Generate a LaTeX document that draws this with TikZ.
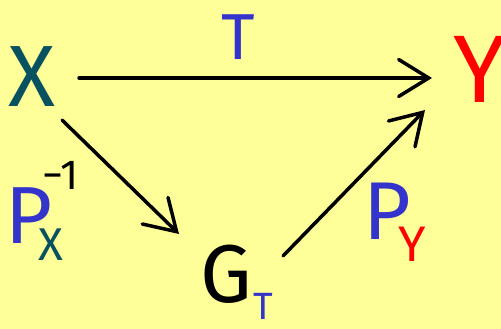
\documentclass[tikz,border=0pt]{standalone}
\usepackage{fontspec}
\setmainfont{Fira Sans}
\usetikzlibrary{arrows.meta}
\definecolor{bgyellow}{RGB}{255,255,153}
\definecolor{tealx}{RGB}{8,82,96}
\definecolor{blueT}{RGB}{52,52,204}
\definecolor{redY}{RGB}{255,0,0}
\begin{document}
\begin{tikzpicture}[x=1pt,y=-1pt,
  lbl/.style={inner sep=0pt,outer sep=0pt,anchor=center},
  arr/.style={line width=3.5pt,line cap=round,-{Straight Barb[length=30pt,width=37pt,line cap=round]}}]
\fill[bgyellow] (0,0) rectangle (501,329);
\useasboundingbox (0,0) rectangle (501,329);
% main objects
\node[lbl,text=tealx,font=\fontsize{87}{87}\selectfont] (X) at (32,77) {X};
\node[lbl,text=redY,font=\fontsize{96}{96}\selectfont] (Y) at (480,69) {Y};
\node[lbl,font=\fontsize{82}{82}\selectfont] (G) at (226,274) {G};
\node[lbl,text=blueT,font=\fontsize{38}{38}\selectfont] (GT) at (263,306) {T};
% arrows
\draw[arr] ([shift={(47,1)}]X.center) -- ([shift={(-48,9)}]Y.center);
\draw[arr] ([shift={(30,43)}]X.center) -- ([shift={(-47,-40)}]G.center);
\draw[arr] ([shift={(57,-18)}]G.center) -- ([shift={(-55,41)}]Y.center);
% labels
\node[lbl,text=blueT,font=\fontsize{65}{65}\selectfont] (T) at (238,37) {T};
\node[lbl,text=blueT,font=\fontsize{81}{81}\selectfont] (PX) at (29,216) {P};
\node[lbl,text=tealx,font=\fontsize{46}{46}\selectfont] (PXs) at (51,245) {X};
\node[lbl,font=\fontsize{42}{42}\selectfont] (PXe) at (61,175) {−1};
\node[lbl,text=blueT,font=\fontsize{82}{82}\selectfont] (PY) at (387,211) {P};
\node[lbl,text=redY,font=\fontsize{50}{50}\selectfont] (PYs) at (412,244) {Y};
\end{tikzpicture}
\end{document}
